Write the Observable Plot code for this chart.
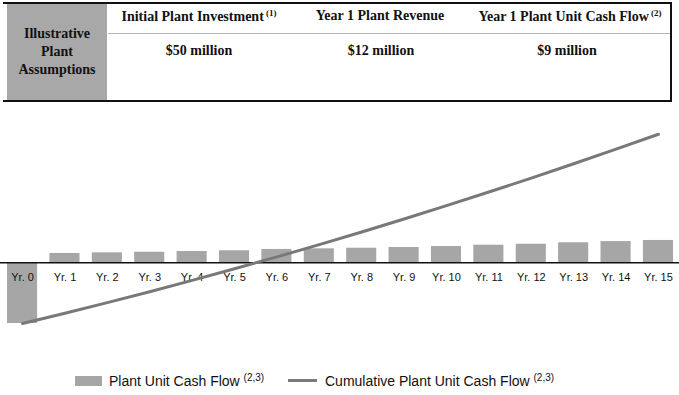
<!DOCTYPE html>
<html>
<head>
<meta charset="utf-8">
<script src="https://cdn.jsdelivr.net/npm/d3@7"></script>
<script src="https://cdn.jsdelivr.net/npm/@observablehq/plot@0.6"></script>
<style>
  html, body { margin: 0; padding: 0; background: #fff; width: 679px; height: 395px; overflow: hidden; }
  #page { position: relative; width: 679px; height: 395px; }
  .tbl { position: absolute; font-family: "Liberation Serif", "Times New Roman", serif; font-weight: bold; color: #111; font-size: 14px; }
  .sup { font-size: 9px; vertical-align: 5px; }
  .lsup { font-size: 10px; vertical-align: 5px; }
  #chart { position: absolute; left: 0; top: 110px; }
  .legend { position: absolute; font-family: "Liberation Sans", Arial, sans-serif; font-size: 14px; color: #111; }
</style>
</head>
<body>
<div id="page">
  <!-- assumptions table -->
  <div style="position:absolute;left:3px;top:2px;width:669px;height:2px;background:#111"></div>
  <div style="position:absolute;left:3px;top:100px;width:669px;height:2px;background:#111"></div>
  <div style="position:absolute;left:670px;top:2px;width:2px;height:100px;background:#111"></div>
  <div style="position:absolute;left:7px;top:4px;width:100px;height:96px;background:#a8a8a8"></div>
  <div style="position:absolute;left:108px;top:33px;width:562px;height:1px;background:#b5b5b5"></div>
  <div id="assume" class="tbl" style="left:7px;top:25px;width:100px;text-align:center;line-height:18px"></div>
  <div id="h0" class="tbl" style="left:108px;top:8px;width:182px;text-align:center"></div>
  <div id="h1" class="tbl" style="left:290px;top:8px;width:180px;text-align:center"></div>
  <div id="h2" class="tbl" style="left:470px;top:8px;width:200px;text-align:center"></div>
  <div id="v0" class="tbl" style="left:108px;top:43px;width:182px;text-align:center"></div>
  <div id="v1" class="tbl" style="left:290px;top:43px;width:182px;text-align:center"></div>
  <div id="v2" class="tbl" style="left:470px;top:43px;width:194px;text-align:center"></div>

  <div id="chart"></div>

  <!-- legend -->
  <div style="position:absolute;left:75px;top:376px;width:27px;height:10px;background:#a6a6a6"></div>
  <div id="leg0" class="legend" style="left:109px;top:372px"></div>
  <div style="position:absolute;left:288px;top:379px;width:29px;height:3px;background:#7a7a7a"></div>
  <div id="leg1" class="legend" style="left:325px;top:372px"></div>
</div>
<script>
// ---- data ----
const assumptionTitle = ["Illustrative", "Plant", "Assumptions"];
const headers = ["Initial Plant Investment", "Year 1 Plant Revenue", "Year 1 Plant Unit Cash Flow"];
const headerNotes = ["(1)", "", "(2)"];
const headerValues = ["$50 million", "$12 million", "$9 million"];
const years = ["Yr. 0", "Yr. 1", "Yr. 2", "Yr. 3", "Yr. 4", "Yr. 5", "Yr. 6", "Yr. 7",
               "Yr. 8", "Yr. 9", "Yr. 10", "Yr. 11", "Yr. 12", "Yr. 13", "Yr. 14", "Yr. 15"];
const cashFlow = [-50, 7.7, 8.2, 8.7, 9.3, 9.9, 11.0, 11.5, 12.0, 12.6, 13.4, 14.5, 15.3, 16.5, 17.5, 18.4];
const cumulative = [-50, -41.5, -32.8, -23.8, -14.5, -4.9, 4.9, 15.0, 25.4, 36.1, 47.1, 58.3, 69.8, 81.6, 93.6, 105.9];
const legendLabels = ["Plant Unit Cash Flow", "Cumulative Plant Unit Cash Flow"];
const legendNote = "(2,3)";

// ---- table text ----
document.getElementById("assume").innerHTML = assumptionTitle.join("<br>");
headers.forEach((h, i) => {
  const el = document.getElementById("h" + i);
  el.textContent = h;
  if (headerNotes[i]) {
    const s = document.createElement("span");
    s.className = "sup";
    s.textContent = " " + headerNotes[i];
    el.appendChild(s);
  }
  document.getElementById("v" + i).textContent = headerValues[i];
});
legendLabels.forEach((t, i) => {
  const el = document.getElementById("leg" + i);
  el.textContent = t + " ";
  const s = document.createElement("span");
  s.className = "lsup";
  s.textContent = legendNote;
  el.appendChild(s);
});

// ---- chart ----
const bars = years.map((y, i) => ({year: y, value: cashFlow[i]}));
const cum = years.map((y, i) => ({year: y, value: cumulative[i]}));

const chart = Plot.plot({
  width: 679,
  height: 240,
  marginTop: 0, marginBottom: 0, marginLeft: 0, marginRight: 0,
  style: {background: "transparent", fontFamily: "Liberation Sans, Arial, sans-serif", overflow: "visible"},
  x: {type: "band", domain: years, range: [7, 673], paddingInner: 0.29, paddingOuter: 0, round: false, axis: null},
  y: {domain: [-60, 110], range: [225.14, 18.76], axis: null},
  marks: [
    Plot.barY(bars, {x: "year", y: "value", fill: "#a6a6a6"}),
    Plot.ruleY([0], {stroke: "#111", strokeWidth: 1.6}),
    Plot.text(years, {x: d => d, y: () => 0, dy: 15, fontSize: 11, fill: "#111", text: d => d}),
    Plot.line(cum, {x: "year", y: "value", stroke: "#787878", strokeWidth: 3})
  ]
});
document.getElementById("chart").appendChild(chart);
</script>
</body>
</html>
